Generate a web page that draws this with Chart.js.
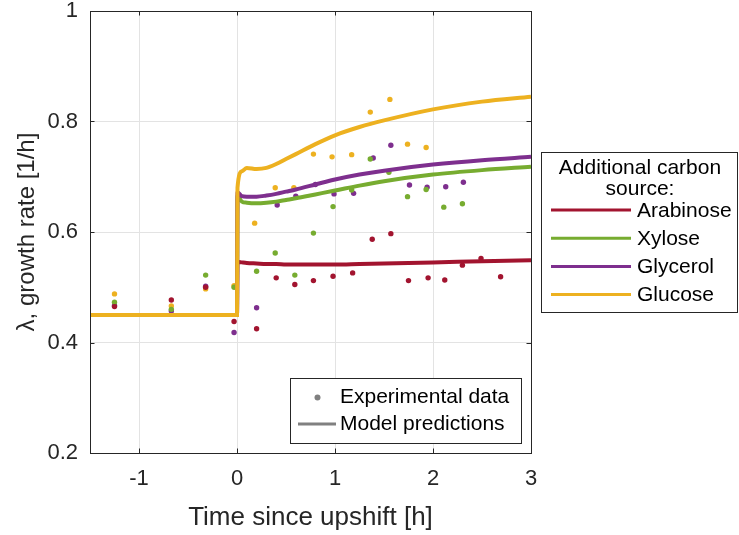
<!DOCTYPE html>
<html>
<head>
<meta charset="utf-8">
<script src="https://cdn.jsdelivr.net/npm/chart.js@4"></script>
<style>
  html, body { margin: 0; padding: 0; background: #fff; }
  #wrap { width: 739px; height: 535px; }
</style>
</head>
<body>
<div id="wrap"><canvas id="growth"></canvas></div>
<script>
// Datos experimentales (tiempo [h], lambda [1/h])
const arabinoseExpT = [-1.25, -0.67, -0.32, -0.03, 0.2, 0.4, 0.59, 0.78, 0.98, 1.18, 1.38, 1.57, 1.75, 1.95, 2.12, 2.3, 2.49, 2.69];
const arabinoseExpY = [0.465, 0.477, 0.5, 0.438, 0.425, 0.517, 0.505, 0.512, 0.52, 0.526, 0.587, 0.597, 0.512, 0.517, 0.513, 0.54, 0.552, 0.519];

const xyloseExpT = [-1.25, -0.67, -0.32, -0.03, 0.2, 0.39, 0.59, 0.78, 0.98, 1.17, 1.36, 1.55, 1.74, 1.93, 2.11, 2.3];
const xyloseExpY = [0.473, 0.46, 0.522, 0.5, 0.529, 0.562, 0.522, 0.598, 0.646, 0.676, 0.732, 0.708, 0.664, 0.677, 0.645, 0.651];

const glycerolExpT = [-1.25, -0.67, -0.32, -0.03, 0.2, 0.41, 0.6, 0.8, 0.99, 1.19, 1.39, 1.57, 1.76, 1.94, 2.13, 2.31];
const glycerolExpY = [0.467, 0.457, 0.502, 0.418, 0.463, 0.649, 0.665, 0.686, 0.669, 0.67, 0.734, 0.757, 0.685, 0.681, 0.682, 0.69];

const glucoseExpT = [-1.25, -0.67, -0.32, -0.03, 0.18, 0.39, 0.58, 0.78, 0.97, 1.17, 1.36, 1.56, 1.74, 1.93];
const glucoseExpY = [0.488, 0.466, 0.497, 0.503, 0.616, 0.68, 0.68, 0.741, 0.736, 0.74, 0.817, 0.84, 0.759, 0.753];

// Predicciones del modelo
const modelT = [-1.5, 0, 0.005, 0.05, 0.1, 0.2, 0.3, 0.4, 0.5, 0.6, 0.8, 1, 1.25, 1.5, 2, 2.5, 3];
const arabinoseModel = [0.45, 0.45, 0.546, 0.545, 0.544, 0.543, 0.542, 0.542, 0.541, 0.541, 0.541, 0.541, 0.542, 0.543, 0.545, 0.547, 0.549];
const xyloseModel = [0.45, 0.45, 0.665, 0.655, 0.653, 0.652, 0.653, 0.655, 0.658, 0.661, 0.668, 0.675, 0.684, 0.692, 0.704, 0.712, 0.718];
const glycerolModel = [0.45, 0.45, 0.672, 0.665, 0.664, 0.664, 0.666, 0.669, 0.673, 0.677, 0.686, 0.695, 0.704, 0.711, 0.722, 0.730, 0.736];
const glucoseModel = [0.45, 0.45, 0.68, 0.71, 0.716, 0.714, 0.716, 0.723, 0.732, 0.741, 0.759, 0.775, 0.79, 0.802, 0.822, 0.836, 0.845];

const xTicks = [-1, 0, 1, 2, 3];
const yTicks = [0.2, 0.4, 0.6, 0.8, 1];
const sourceNames = ['Arabinose', 'Xylose', 'Glycerol', 'Glucose'];
const sourceColors = ['#A2142F', '#77AC30', '#7E2F8E', '#EDB120'];

const FONT = "'Liberation Sans', Arial, Helvetica, sans-serif";
const AXIS_COLOR = '#262626';

function pares(t, y) {
  return t.map((v, i) => ({ x: v, y: y[i] }));
}

function lineaModelo(nombre, y, color, order) {
  return {
    label: nombre,
    data: pares(modelT, y),
    showLine: true,
    borderColor: color,
    backgroundColor: color,
    borderWidth: 4,
    pointRadius: 0,
    cubicInterpolationMode: 'monotone',
    order: order
  };
}

function puntosExp(nombre, t, y, color) {
  return {
    label: nombre + ' exp',
    data: pares(t, y),
    showLine: false,
    pointRadius: 2.7,
    pointBorderWidth: 0,
    pointBackgroundColor: color,
    backgroundColor: color,
    order: 10
  };
}

// Caja, ticks hacia adentro y leyendas
const cajaYLeyendas = {
  id: 'cajaYLeyendas',
  afterDraw(chart) {
    const ctx = chart.ctx;
    const a = chart.chartArea;
    const xs = chart.scales.x, ys = chart.scales.y;
    ctx.save();
    ctx.strokeStyle = AXIS_COLOR;
    ctx.lineWidth = 1;
    ctx.strokeRect(Math.round(a.left) + 0.5, Math.round(a.top) + 0.5, Math.round(a.right - a.left), Math.round(a.bottom - a.top));
    const tl = 4.5;
    ctx.beginPath();
    xTicks.forEach(v => {
      const px = Math.round(xs.getPixelForValue(v)) + 0.5;
      ctx.moveTo(px, a.bottom); ctx.lineTo(px, a.bottom - tl);
      ctx.moveTo(px, a.top); ctx.lineTo(px, a.top + tl);
    });
    yTicks.forEach(v => {
      const py = Math.round(ys.getPixelForValue(v)) + 0.5;
      ctx.moveTo(a.left, py); ctx.lineTo(a.left + tl, py);
      ctx.moveTo(a.right, py); ctx.lineTo(a.right - tl, py);
    });
    ctx.stroke();

    // Leyenda de fuentes de carbono
    ctx.fillStyle = '#fff';
    ctx.fillRect(541, 152, 196, 160);
    ctx.strokeStyle = AXIS_COLOR;
    ctx.strokeRect(541.5, 152.5, 196, 160);
    ctx.fillStyle = '#000';
    ctx.font = '21px ' + FONT;
    ctx.textAlign = 'center';
    ctx.textBaseline = 'middle';
    ctx.fillText('Additional carbon', 640, 168);
    ctx.fillText('source:', 640, 189);
    ctx.textAlign = 'left';
    sourceNames.forEach((n, i) => {
      const yy = 210 + i * 28.2;
      ctx.strokeStyle = sourceColors[i];
      ctx.lineWidth = 3;
      ctx.beginPath();
      ctx.moveTo(551, yy); ctx.lineTo(631, yy);
      ctx.stroke();
      ctx.fillStyle = '#000';
      ctx.fillText(n, 637, yy + 1);
    });

    // Leyenda datos / modelo
    ctx.fillStyle = '#fff';
    ctx.fillRect(290, 378, 231, 65);
    ctx.strokeStyle = AXIS_COLOR;
    ctx.lineWidth = 1;
    ctx.strokeRect(290.5, 378.5, 231, 65);
    ctx.fillStyle = '#808080';
    ctx.beginPath();
    ctx.arc(317.5, 397.5, 3, 0, Math.PI * 2);
    ctx.fill();
    ctx.strokeStyle = '#808080';
    ctx.lineWidth = 3;
    ctx.beginPath();
    ctx.moveTo(298, 424); ctx.lineTo(336, 424);
    ctx.stroke();
    ctx.fillStyle = '#000';
    ctx.fillText('Experimental data', 340, 397);
    ctx.fillText('Model predictions', 340, 424);
    ctx.restore();
  }
};

const growth = document.getElementById('growth');

new Chart(growth, {
  type: 'scatter',
  data: {
    datasets: [
      lineaModelo(sourceNames[3], glucoseModel, sourceColors[3], 0),
      lineaModelo(sourceNames[2], glycerolModel, sourceColors[2], 1),
      lineaModelo(sourceNames[1], xyloseModel, sourceColors[1], 2),
      lineaModelo(sourceNames[0], arabinoseModel, sourceColors[0], 3),
      puntosExp(sourceNames[0], arabinoseExpT, arabinoseExpY, sourceColors[0]),
      puntosExp(sourceNames[1], xyloseExpT, xyloseExpY, sourceColors[1]),
      puntosExp(sourceNames[2], glycerolExpT, glycerolExpY, sourceColors[2]),
      puntosExp(sourceNames[3], glucoseExpT, glucoseExpY, sourceColors[3])
    ]
  },
  options: {
    responsive: true,
    maintainAspectRatio: false,
    animation: false,
    layout: { padding: { top: 11, right: 208, left: 0, bottom: 0 } },
    plugins: {
      legend: { display: false },
      tooltip: { enabled: false }
    },
    scales: {
      x: {
        type: 'linear',
        min: -1.5,
        max: 3,
        afterBuildTicks(scale) { scale.ticks = xTicks.map(v => ({ value: v })); },
        afterFit(scale) { scale.height = 82; },
        grid: { color: '#e3e3e3', drawTicks: false },
        border: { display: false },
        ticks: {
          color: AXIS_COLOR,
          font: { family: FONT, size: 22, lineHeight: 1 },
          padding: 15,
          maxRotation: 0,
          callback: v => String(v)
        },
        title: {
          display: true,
          text: 'Time since upshift [h]',
          color: AXIS_COLOR,
          font: { family: FONT, size: 26, lineHeight: 1.2 },
          padding: { top: 0, bottom: 2 }
        }
      },
      y: {
        type: 'linear',
        min: 0.2,
        max: 1,
        afterBuildTicks(scale) { scale.ticks = yTicks.map(v => ({ value: v })); },
        afterFit(scale) {
          scale.width = 90;
          scale.paddingTop = 0;
          scale.paddingBottom = 0;
        },
        grid: { color: '#e3e3e3', drawTicks: false },
        border: { display: false },
        ticks: {
          color: AXIS_COLOR,
          font: { family: FONT, size: 22, lineHeight: 1 },
          padding: 12,
          callback: v => String(v)
        },
        title: {
          display: true,
          text: 'λ, growth rate [1/h]',
          color: AXIS_COLOR,
          font: { family: FONT, size: 24, lineHeight: 1.2 },
          padding: { top: 13, bottom: 0 }
        }
      }
    }
  },
  plugins: [cajaYLeyendas]
});
</script>
</body>
</html>
